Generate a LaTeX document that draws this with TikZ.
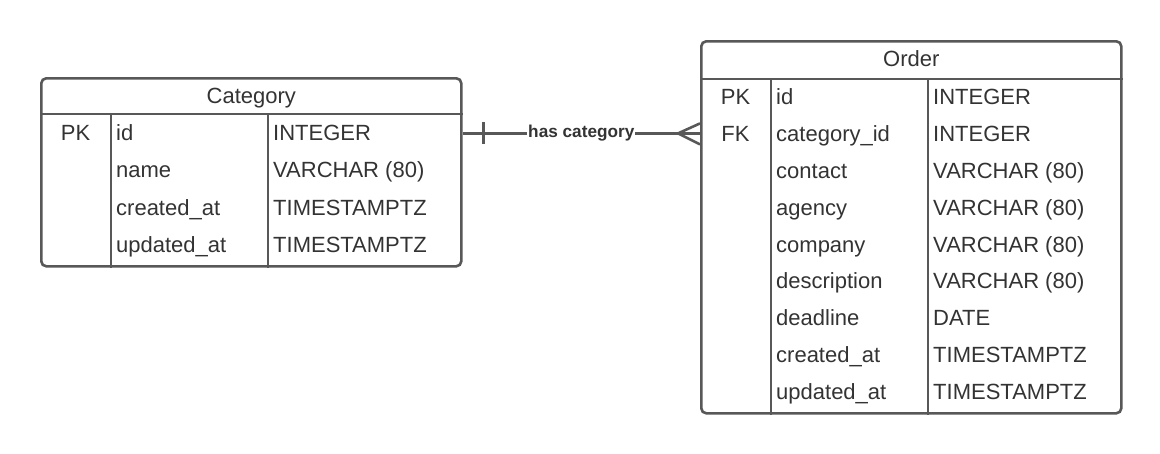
\documentclass[tikz,border=0pt]{standalone}
\usepackage{fontspec}
\setmainfont{Liberation Sans}
\usetikzlibrary{positioning,calc}

\definecolor{erline}{RGB}{88,88,88}
\definecolor{ertext}{RGB}{51,51,51}

\tikzset{
  tbl/.style={draw=erline, line width=2.6pt, rounded corners=5pt, inner sep=0pt, anchor=north west},
  sep/.style={draw=erline, line width=2.6pt},
  cell/.style={text=ertext, font=\fontsize{22}{24}\selectfont, inner sep=0pt, text height=15.8pt, text depth=0pt},
  rel/.style={draw=erline, line width=2.6pt},
  rellabel/.style={text=ertext, font=\bfseries\fontsize{17.2}{20}\selectfont, fill=white, inner sep=1pt}
}

\begin{document}
\begin{tikzpicture}[x=1pt, y=-1pt]
\useasboundingbox (0,0) rectangle (1160,453);

%tables
\node [tbl, minimum width=420pt, minimum height=188pt](cat) at (40,77){};
\node [tbl, minimum width=420pt, minimum height=372pt](ord) at (700,40){};

\node [cell] (cat-title) at ($(cat.north)+(0,18.5)$){Category};
\node [cell] (ord-title) at ($(ord.north)+(0,18.5)$){Order};

\draw [sep] ($(cat.north west)+(0,37)$) -- ($(cat.north east)+(0,37)$);
\draw [sep] ($(cat.north west)+(71,37)$) -- ($(cat.south west)+(71,0)$);
\draw [sep] ($(cat.north west)+(228,37)$) -- ($(cat.south west)+(228,0)$);

\draw [sep] ($(ord.north west)+(0,39)$) -- ($(ord.north east)+(0,39)$);
\draw [sep] ($(ord.north west)+(71,39)$) -- ($(ord.south west)+(71,0)$);
\draw [sep] ($(ord.north west)+(228,39)$) -- ($(ord.south west)+(228,0)$);

%rows
\foreach \k/\n/\t [count=\i] in {PK/id/INTEGER, /name/VARCHAR (80), /created\_at/TIMESTAMPTZ, /updated\_at/TIMESTAMPTZ}{
  \node [cell] (cat-k-\i) at (75.5,{132.5+37.3*(\i-1)}){\k};
  \node [cell, anchor=west] (cat-n-\i) at (116,{132.5+37.3*(\i-1)}){\n};
  \node [cell, anchor=west] (cat-t-\i) at (273,{132.5+37.3*(\i-1)}){\t};
}

\foreach \k/\n/\t [count=\i] in {PK/id/INTEGER, FK/category\_id/INTEGER, /contact/VARCHAR (80), /agency/VARCHAR (80), /company/VARCHAR (80), /description/VARCHAR (80), /deadline/DATE, /created\_at/TIMESTAMPTZ, /updated\_at/TIMESTAMPTZ}{
  \node [cell] (ord-k-\i) at (735.5,{96.5+36.9*(\i-1)}){\k};
  \node [cell, anchor=west] (ord-n-\i) at (776,{96.5+36.9*(\i-1)}){\n};
  \node [cell, anchor=west] (ord-t-\i) at (933,{96.5+36.9*(\i-1)}){\t};
}

%relation
\coordinate (one) at (cat.east |- ord-n-2);
\coordinate (many) at (ord.west |- ord-n-2);

\path [rel] (one) -- (many) node [rellabel, midway](has){has category};
\path [rel] ($(one)+(21,-11)$) -- ($(one)+(21,11)$);
\path [rel] ($(many)+(0,-10)$) -- ($(many)+(-22,0)$) -- ($(many)+(0,11)$);

\end{tikzpicture}
\end{document}
